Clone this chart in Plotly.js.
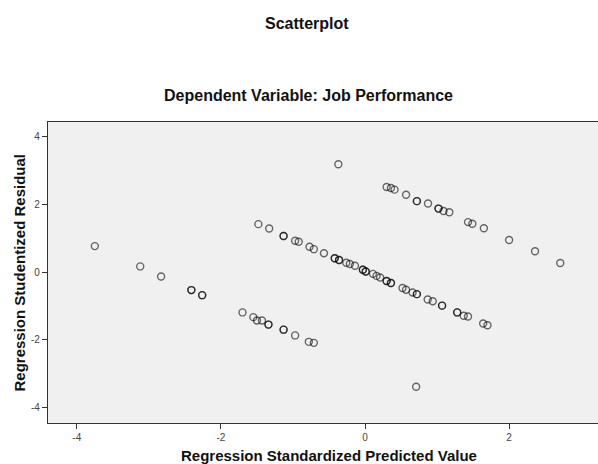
<!DOCTYPE html>
<html>
<head>
<meta charset="utf-8">
<script src="https://cdn.plot.ly/plotly-3.0.1.min.js"></script>
<style>html,body{margin:0;padding:0;background:#fff;}#chart{width:598px;height:464px;}</style>
</head>
<body>
<div id="chart"></div>
<script>
// Regression standardized predicted value (x) and studentized residual (y)
const predicted = [
  -3.75, -3.12, -2.83, -2.41, -2.41, -2.26, -2.26,
  -1.70, -1.55, -1.50, -1.43, -1.34, -1.34, -1.13, -1.13, -0.97, -0.78, -0.71,
  -1.48, -1.33, -1.13, -1.13, -0.97, -0.92, -0.77, -0.71, -0.57, -0.42, -0.42, -0.36, -0.36,
  -0.26, -0.21, -0.14, -0.03, -0.03, 0.01, 0.01, 0.11, 0.16, 0.21, 0.30, 0.30, 0.36, 0.36,
  0.52, 0.57, 0.66, 0.72, 0.72, 0.87, 0.94, 1.07, 1.07, 1.28, 1.28, 1.37, 1.43, 1.64, 1.70,
  -0.37, 0.30, 0.36, 0.41, 0.57, 0.72, 0.72, 0.875, 1.02, 1.02, 1.09, 1.17, 1.43, 1.49, 1.65,
  2.00, 2.36, 2.71,
  0.71
];
const residual = [
  0.77, 0.17, -0.13, -0.53, -0.53, -0.68, -0.68,
  -1.19, -1.33, -1.43, -1.43, -1.55, -1.55, -1.70, -1.70, -1.87, -2.06, -2.09,
  1.42, 1.29, 1.07, 1.07, 0.93, 0.90, 0.75, 0.68, 0.56, 0.41, 0.41, 0.36, 0.36,
  0.28, 0.24, 0.19, 0.07, 0.07, 0.02, 0.02, -0.05, -0.11, -0.16, -0.26, -0.26, -0.32, -0.32,
  -0.47, -0.52, -0.60, -0.65, -0.65, -0.81, -0.86, -0.99, -0.99, -1.19, -1.19, -1.29, -1.31, -1.52, -1.57,
  3.19, 2.52, 2.49, 2.44, 2.29, 2.10, 2.10, 2.03, 1.88, 1.88, 1.81, 1.77, 1.48, 1.43, 1.30,
  0.95, 0.62, 0.27,
  -3.39
];
const xTickVals = [-4, -2, 0, 2];
const xTickText = ["-4", "-2", "0", "2"];
const yTickVals = [-4, -2, 0, 2, 4];
const yTickText = ["-4", "-2", "0", "2", "4"];

const FONT = "Arial, 'Liberation Sans', sans-serif";

const trace = {
  type: "scatter",
  mode: "markers",
  x: predicted,
  y: residual,
  marker: {
    symbol: "circle-open",
    size: 7,
    color: "rgba(0,0,0,0.58)",
    line: {width: 1.4, color: "rgba(0,0,0,0.58)"}
  },
  hoverinfo: "x+y"
};

const layout = {
  width: 598,
  height: 464,
  margin: {l: 48, r: 0, t: 122, b: 41, pad: 0},
  paper_bgcolor: "#ffffff",
  plot_bgcolor: "#f0f0f0",
  showlegend: false,
  font: {family: FONT, size: 10, color: "#333"},
  xaxis: {
    range: [-4.40, 3.234],
    tickvals: xTickVals,
    ticktext: xTickText,
    ticks: "outside",
    ticklen: 5,
    tickwidth: 1,
    tickcolor: "#333",
    showgrid: false,
    zeroline: false,
    showline: true,
    linecolor: "#333",
    linewidth: 1.2,
    mirror: true,
    tickfont: {family: FONT, size: 10, color: "#444"}
  },
  yaxis: {
    range: [-4.46, 4.44],
    tickvals: yTickVals,
    ticktext: yTickText,
    ticks: "outside",
    ticklen: 5,
    tickwidth: 1,
    tickcolor: "#333",
    showgrid: false,
    zeroline: false,
    showline: true,
    linecolor: "#333",
    linewidth: 1.2,
    tickfont: {family: FONT, size: 10, color: "#444"}
  },
  annotations: [
    {text: "<b>Scatterplot</b>", xref: "paper", yref: "paper", x: 0.470, y: 1.3256,
     xanchor: "center", yanchor: "middle", showarrow: false,
     font: {family: FONT, size: 16, color: "#111"}},
    {text: "<b>Dependent Variable: Job Performance</b>", xref: "paper", yref: "paper", x: 0.473, y: 1.0897,
     xanchor: "center", yanchor: "middle", showarrow: false,
     font: {family: FONT, size: 16, color: "#111"}},
    {text: "<b>Regression Standardized Predicted Value</b>", xref: "paper", yref: "paper", x: 0.511, y: -0.1096,
     xanchor: "center", yanchor: "middle", showarrow: false,
     font: {family: FONT, size: 15, color: "#111"}},
    {text: "<b>Regression Studentized Residual</b>", xref: "paper", yref: "paper", x: -0.0527, y: 0.5,
     xanchor: "center", yanchor: "middle", showarrow: false, textangle: -90,
     font: {family: FONT, size: 15, color: "#111"}}
  ]
};

Plotly.newPlot("chart", [trace], layout, {displayModeBar: false, staticPlot: true});
</script>
</body>
</html>
